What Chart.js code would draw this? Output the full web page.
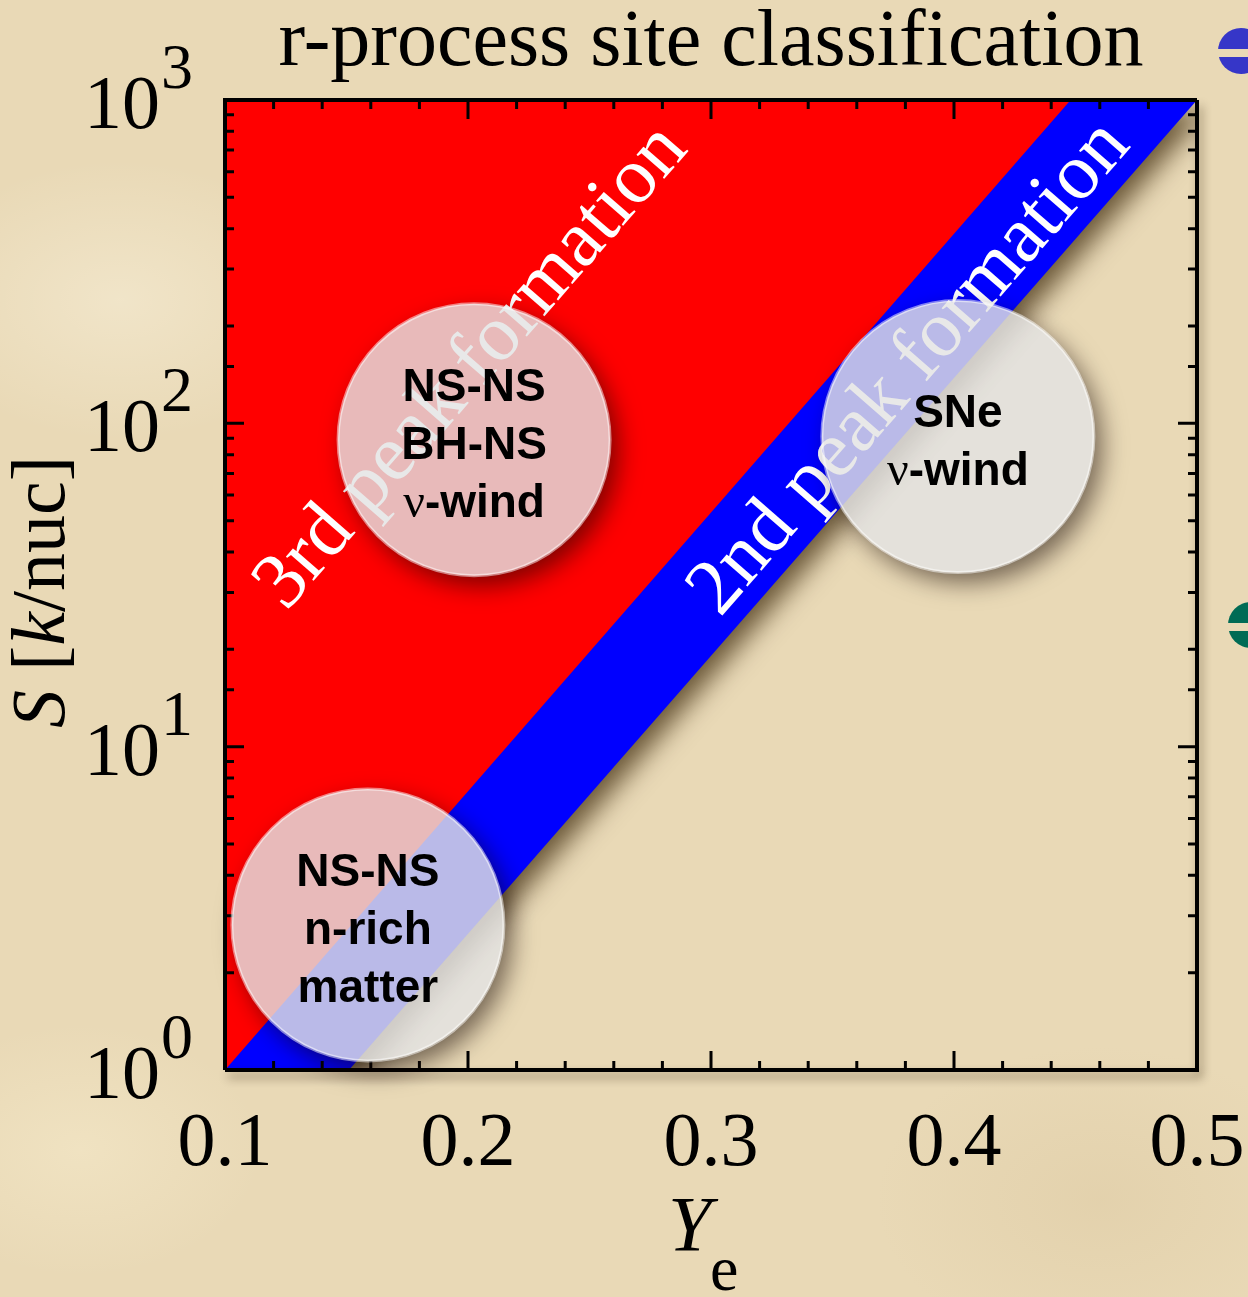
<!DOCTYPE html>
<html lang="en">
<head>
<meta charset="UTF-8">
<title>r-process site classification</title>
<style>
  html, body { margin: 0; padding: 0; }
  body {
    width: 1248px; height: 1297px; overflow: hidden;
    background-color: #e9d9b6;
    background-image:
      radial-gradient(ellipse 300px 200px at 120px 300px, rgba(255,250,235,0.35), rgba(255,250,235,0) 70%),
      radial-gradient(ellipse 260px 180px at 80px 1150px, rgba(250,240,210,0.4), rgba(250,240,210,0) 70%),
      radial-gradient(ellipse 320px 220px at 1100px 1200px, rgba(200,175,130,0.18), rgba(200,175,130,0) 70%);
  }
  canvas { display: block; }
</style>
</head>
<body>
<canvas id="chart" width="1248" height="1297"></canvas>
<script src="https://cdn.jsdelivr.net/npm/chart.js"></script>
<script>
// region edges (Ye, S)
const thirdEdgeYe = [0.1, 0.448];
const thirdEdgeS = [1, 1000];
const secondEdgeYe = [0.1, 0.151, 0.5];
const secondEdgeS = [1, 1, 1000];

// the three site bubbles
const siteYe = [0.2025, 0.4016, 0.1588];
const siteS = [89, 91, 2.81];
const siteLines = [
    ['NS-NS', 'BH-NS', 'ν-wind'],
    ['SNe', 'ν-wind'],
    ['NS-NS', 'n-rich', 'matter']
];
const siteRadius = 136;

// rotated band labels, anchored at their centre
const bandText = ['3rd peak formation', '2nd peak formation'];
const bandYe = [0.2016, 0.3819];
const bandS = [149, 148];

const yExponents = [0, 1, 2, 3];

const serif = '"Liberation Serif", "Times New Roman", serif';
const sans = '"Liberation Sans", Arial, sans-serif';

function setShadow(ctx, color, blur, ox, oy) {
    ctx.shadowColor = color;
    ctx.shadowBlur = blur;
    ctx.shadowOffsetX = ox;
    ctx.shadowOffsetY = oy;
}
function clearShadow(ctx) { setShadow(ctx, 'rgba(0,0,0,0)', 0, 0, 0); }

function isMajorX(v) { return Math.abs(v * 10 - Math.round(v * 10)) < 1e-6; }

function drawFrame(chart) {
    const ctx = chart.ctx;
    const a = chart.chartArea;
    const xs = chart.scales.x, ys = chart.scales.y;
    ctx.save();
    ctx.strokeStyle = '#000';
    ctx.lineCap = 'butt';
    // ticks
    ctx.lineWidth = 3;
    ctx.beginPath();
    for (const t of xs.ticks) {
        const px = xs.getPixelForValue(t.value);
        const len = isMajorX(t.value) ? 19 : 9;
        ctx.moveTo(px, a.bottom); ctx.lineTo(px, a.bottom - len);
        ctx.moveTo(px, a.top); ctx.lineTo(px, a.top + len);
    }
    for (const t of ys.ticks) {
        const lg = Math.log10(t.value);
        const major = Math.abs(lg - Math.round(lg)) < 1e-9;
        const py = ys.getPixelForValue(t.value);
        const len = major ? 19 : 9;
        ctx.moveTo(a.left, py); ctx.lineTo(a.left + len, py);
        ctx.moveTo(a.right, py); ctx.lineTo(a.right - len, py);
    }
    ctx.stroke();
    // box, bottom/right edges cast a soft shadow
    ctx.lineWidth = 4;
    setShadow(ctx, 'rgba(40,25,0,0.45)', 10, 3, 6);
    ctx.beginPath();
    ctx.moveTo(a.left, a.bottom); ctx.lineTo(a.right, a.bottom); ctx.lineTo(a.right, a.top);
    ctx.stroke();
    clearShadow(ctx);
    ctx.beginPath();
    ctx.moveTo(a.right, a.top); ctx.lineTo(a.left, a.top); ctx.lineTo(a.left, a.bottom);
    ctx.stroke();
    ctx.restore();
}

function drawBandLabels(chart) {
    const ctx = chart.ctx;
    const xs = chart.scales.x, ys = chart.scales.y;
    const dx = xs.getPixelForValue(thirdEdgeYe[1]) - xs.getPixelForValue(thirdEdgeYe[0]);
    const dy = ys.getPixelForValue(thirdEdgeS[1]) - ys.getPixelForValue(thirdEdgeS[0]);
    const ang = Math.atan2(dy, dx);
    ctx.save();
    ctx.fillStyle = '#fff';
    ctx.font = '80px ' + serif;
    ctx.textAlign = 'center';
    ctx.textBaseline = 'middle';
    bandText.forEach((txt, i) => {
        ctx.save();
        ctx.translate(xs.getPixelForValue(bandYe[i]), ys.getPixelForValue(bandS[i]));
        ctx.rotate(ang);
        ctx.fillText(txt, 0, 0);
        ctx.restore();
    });
    ctx.restore();
}

// soft drop shadow outside each bubble only, so it does not darken the translucent disc
function drawSiteShadows(chart) {
    const ctx = chart.ctx;
    const meta = chart.getDatasetMeta(0);
    const far = 5000;
    ctx.save();
    for (const el of meta.data) {
        const r = el.options.radius;
        ctx.save();
        ctx.beginPath();
        ctx.rect(0, 0, chart.width, chart.height);
        ctx.arc(el.x, el.y, r, 0, Math.PI * 2, true);
        ctx.clip('evenodd');
        setShadow(ctx, 'rgba(20,5,0,0.55)', 24, far + 8, 10);
        ctx.fillStyle = '#000';
        ctx.beginPath();
        ctx.arc(el.x - far, el.y, r, 0, Math.PI * 2);
        ctx.fill();
        ctx.restore();
    }
    ctx.restore();
}

function drawSiteText(chart) {
    const ctx = chart.ctx;
    const meta = chart.getDatasetMeta(0);
    ctx.save();
    ctx.fillStyle = '#000';
    ctx.textBaseline = 'alphabetic';
    ctx.textAlign = 'left';
    const gap = 58;
    siteLines.forEach((lines, i) => {
        const el = meta.data[i];
        const y0 = el.y + 3 - (lines.length - 1) * gap / 2;
        lines.forEach((ln, j) => {
            const base = y0 + j * gap + 16.5;
            let pre = '', rest = ln;
            if (ln.startsWith('ν')) { pre = 'ν'; rest = ln.slice(1); }
            ctx.font = '48px ' + serif;
            const wPre = pre ? ctx.measureText(pre).width : 0;
            ctx.font = 'bold 46px ' + sans;
            const wRest = ctx.measureText(rest).width;
            let x = el.x - (wPre + wRest) / 2;
            if (pre) {
                ctx.font = '48px ' + serif;
                ctx.fillText(pre, x, base);
                x += wPre;
            }
            ctx.font = 'bold 46px ' + sans;
            ctx.fillText(rest, x, base);
        });
    });
    ctx.restore();
}

function drawAxisText(chart) {
    const ctx = chart.ctx;
    const a = chart.chartArea;
    const ys = chart.scales.y;
    ctx.save();
    ctx.fillStyle = '#000';
    ctx.textBaseline = 'alphabetic';
    // y tick labels 10^n
    const right = a.left - 32;
    for (const e of yExponents) {
        const py = ys.getPixelForValue(Math.pow(10, e));
        ctx.font = '64px ' + serif;
        const sup = String(e);
        const ws = ctx.measureText(sup).width;
        ctx.textAlign = 'left';
        ctx.fillText(sup, right - ws, py - 12);
        ctx.font = '76px ' + serif;
        ctx.textAlign = 'right';
        ctx.fillText('10', right - ws - 1, py + 28);
    }
    // y title: S [k/nuc]
    const parts = [['S', 'italic '], [' [', ''], ['k', 'italic '], ['/nuc]', '']];
    let total = 0;
    for (const p of parts) { ctx.font = p[1] + '76px ' + serif; total += ctx.measureText(p[0]).width; }
    ctx.save();
    ctx.translate(64, (a.top + a.bottom) / 2 + 7);
    ctx.rotate(-Math.PI / 2);
    ctx.textAlign = 'left';
    let x = -total / 2;
    for (const p of parts) {
        ctx.font = p[1] + '76px ' + serif;
        ctx.fillText(p[0], x, 0);
        x += ctx.measureText(p[0]).width;
    }
    ctx.restore();
    // x title: Y_e
    const cx = (a.left + a.right) / 2;
    ctx.textAlign = 'left';
    ctx.font = 'italic 78px ' + serif;
    ctx.fillText('Y', cx - 43, 1250);
    ctx.font = '64px ' + serif;
    ctx.fillText('e', cx - 1, 1290);
    ctx.restore();
}

function drawBullets(chart) {
    // slide bullets peeking in at the right edge
    const ctx = chart.ctx;
    const bullets = [[1241, 51, '#3636c8'], [1251, 625, '#006b55']];
    ctx.save();
    for (const b of bullets) {
        ctx.fillStyle = b[2];
        ctx.beginPath();
        ctx.arc(b[0], b[1], 23, 0, Math.PI * 2);
        ctx.fill();
        ctx.fillStyle = '#e9d9b6';
        ctx.fillRect(b[0] - 25, b[1] - 2, 50, 8);
    }
    ctx.restore();
}

const decor = {
    id: 'decor',
    beforeDatasetsDraw(chart) {
        // shadow for the blue band (drawn first)
        setShadow(chart.ctx, 'rgba(50,30,0,0.7)', 26, 10, 10);
    },
    beforeDatasetDraw(chart, args) {
        if (args.index === 0) drawSiteShadows(chart);
    },
    afterDatasetDraw(chart, args) {
        if (args.index === 2) clearShadow(chart.ctx);
        if (args.index === 1) {
            drawBandLabels(chart);
            drawFrame(chart);
        }
        if (args.index === 0) drawSiteText(chart);
    },
    afterDraw(chart) {
        drawAxisText(chart);
        drawBullets(chart);
    }
};

const chart = new Chart(document.getElementById('chart'), {
    type: 'scatter',
    data: {
        datasets: [
            {
                type: 'bubble',
                label: 'sites',
                data: siteYe.map((x, i) => ({ x: x, y: siteS[i], r: siteRadius })),
                backgroundColor: 'rgba(227,227,227,0.82)',
                borderColor: 'rgba(255,255,255,0.5)',
                borderWidth: 3,
                clip: false
            },
            {
                type: 'line',
                label: '3rd peak formation',
                data: thirdEdgeYe.map((x, i) => ({ x: x, y: thirdEdgeS[i] })),
                fill: 'end',
                backgroundColor: '#ff0000',
                borderColor: 'rgba(0,0,0,0)',
                borderWidth: 0,
                pointRadius: 0,
                tension: 0
            },
            {
                type: 'line',
                label: '2nd peak formation',
                data: secondEdgeYe.map((x, i) => ({ x: x, y: secondEdgeS[i] })),
                fill: 'end',
                backgroundColor: '#0000ff',
                borderColor: 'rgba(0,0,0,0)',
                borderWidth: 0,
                pointRadius: 0,
                tension: 0
            }
        ]
    },
    options: {
        responsive: false,
        animation: false,
        events: [],
        layout: { autoPadding: false, padding: { left: 225, right: 51, top: 0, bottom: 0 } },
        plugins: {
            legend: { display: false },
            tooltip: { enabled: false },
            title: {
                display: true,
                text: 'r-process site classification',
                color: '#000',
                font: { family: serif, size: 80, weight: 'normal', lineHeight: 1 },
                padding: { top: 4, bottom: 16 }
            }
        },
        scales: {
            x: {
                type: 'linear',
                min: 0.1,
                max: 0.5,
                grid: { display: false },
                border: { display: false },
                ticks: {
                    stepSize: 0.02,
                    autoSkip: false,
                    maxRotation: 0,
                    padding: 21,
                    color: '#000',
                    font: { family: serif, size: 76 },
                    callback: v => isMajorX(v) ? v.toFixed(1) : ''
                },
                afterFit: s => {
                    s.height = 227;
                    s.paddingLeft = 0;
                    s.paddingRight = 0;
                }
            },
            y: {
                type: 'logarithmic',
                min: 1,
                max: 1000,
                display: false
            }
        }
    },
    plugins: [decor]
});
</script>
</body>
</html>
